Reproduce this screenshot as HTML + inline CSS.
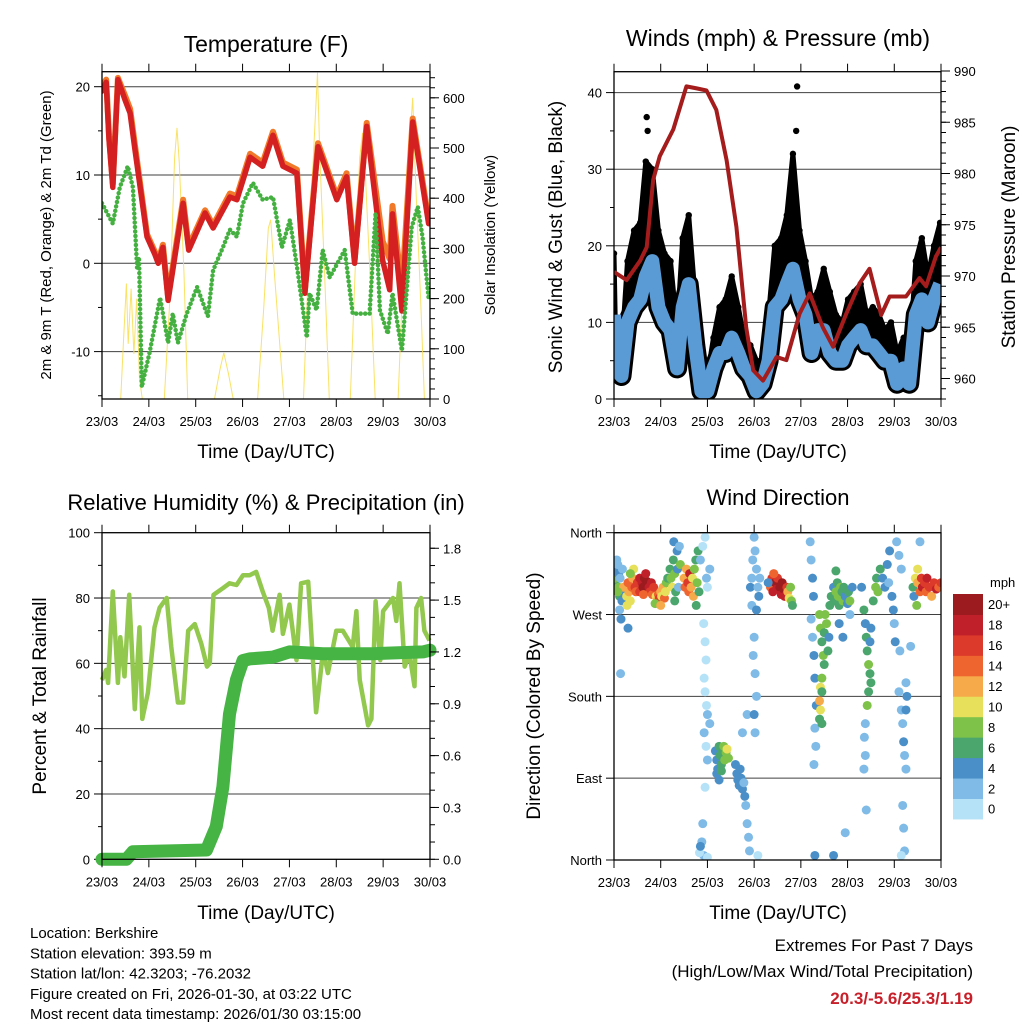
<!DOCTYPE html>
<html><head><meta charset="utf-8"><style>
html,body{margin:0;padding:0;background:#fff}
svg{display:block;font-family:"Liberation Sans",Arial,sans-serif}
</style></head><body>
<svg id="s" xmlns="http://www.w3.org/2000/svg" width="1024" height="1024" viewBox="0 0 1024 1024">
<rect width="1024" height="1024" fill="#fff"/>
</svg>
<script>
// ---------- DATA ----------
const dayLabels = ["23/03","24/03","25/03","26/03","27/03","28/03","29/03","30/03"];
// Temperature panel
const tTimes = [0,0.09,0.15,0.23,0.34,0.49,0.6,0.7,0.96,1.13,1.2,1.3,1.41,1.73,1.85,2.2,2.37,2.73,2.88,3.16,3.43,3.65,3.86,4.16,4.33,4.61,5.01,5.22,5.39,5.65,5.99,6.14,6.2,6.4,6.63,6.97];
const tRed   = [19.5,20.5,14,8.6,20.8,18.5,17,13,3,1,0,1.8,-4.2,6.8,1.5,5.7,4,7.5,7.2,12,11,14.5,11,10.2,-3.4,13.2,7.2,9.8,0,15.5,0.3,-3,5.6,-5.4,16,4.5];
const tOrange= [20,20.8,14.5,9,21,19,17.5,13.5,3.3,1.3,0.3,2.1,-3.8,7.2,1.9,6,4.3,7.9,7.6,12.4,11.4,14.9,11.4,10.6,-3,13.6,7.6,10.2,0.4,15.9,2.5,0.5,6.5,-3,16.4,4.9];
const dTimes = [0,0.23,0.38,0.55,0.66,0.75,0.79,0.85,1.02,1.24,1.41,1.51,1.62,1.81,2.03,2.26,2.37,2.58,2.73,2.88,3.01,3.22,3.43,3.65,3.84,4.01,4.18,4.37,4.43,4.58,4.71,4.86,5.18,5.35,5.71,5.84,5.93,6.1,6.2,6.4,6.61,6.74,6.84,6.97];
const dewVals= [6.8,4.5,8.6,11,8.6,-0.5,0.7,-14,-10,-3.9,-9,-5.7,-9,-5.7,-2.7,-6,-0.8,1.8,3.8,3,6.8,9.1,7.2,7.5,1.8,4.9,-1.1,-8.4,-3.4,-5.3,1.5,-1.6,1.5,-5.7,-5.7,5.7,-5.3,-8,-3.4,-9.9,4.1,6.4,3,-3.9];
const solTimes = [0,0.40,0.46,0.52,0.56,0.62,0.68,0.74,0.80,0.86,1.33,1.45,1.55,1.60,1.65,1.75,1.83,2.4,2.52,2.6,2.7,2.8,3.32,3.45,3.55,3.6,3.68,3.8,3.88,4.3,4.42,4.52,4.6,4.65,4.75,4.85,5.3,5.42,5.5,5.56,5.62,5.72,5.83,6.32,6.45,6.56,6.63,6.7,6.8,6.88,7];
const solVals  = [0,0,120,230,110,220,90,200,40,0,0,200,480,540,470,250,0,0,60,92,50,0,0,180,340,357,250,100,0,0,300,500,650,480,250,0,0,300,480,530,450,250,0,0,300,500,600,420,200,0,0];
// Winds panel
const wTimes = [0,0.03,0.16,0.29,0.43,0.56,0.68,0.82,0.95,1.08,1.21,1.35,1.47,1.6,1.74,1.87,2.0,2.13,2.26,2.39,2.52,2.66,2.78,2.92,3.05,3.18,3.31,3.44,3.58,3.7,3.83,3.97,4.1,4.23,4.36,4.49,4.62,4.75,4.89,5.01,5.14,5.28,5.41,5.54,5.67,5.8,5.93,6.06,6.2,6.32,6.46,6.59,6.72,6.85,6.98];
const windVals=[11,4,3,10,12,13,16,18,12,10,9,4,12,15,7,1,1,4,6,6,8,6,4,3,1,2,5,12,13,15,17,13,11,6,9,9,6,5,5,7,8,9,7,7,6,5,5,2,4,2,11,13,10,13,15];
const gustVals=[19,9,6,18,22,23,31,30,22,19,18,9,21,24,13,5,3,8,12,13,16,12,8,7,5,5,11,20,21,24,32,22,18,13,14,17,14,11,10,13,14,15,11,12,11,9,10,6,8,5,18,21,16,20,23];
const gustPeakTimes=[0.7,3.92,3.9,0.72];
const gustPeakVals=[36.8,40.8,35,35];
const presTimes=[0,0.27,0.56,0.70,0.84,0.98,1.27,1.55,1.77,1.98,2.19,2.41,2.62,2.83,2.98,3.19,3.48,3.69,3.97,4.19,4.47,4.69,4.97,5.26,5.47,5.72,5.90,6.25,6.54,6.68,6.89,7.0];
const presVals=[970.4,969.6,971.5,972.8,979.4,981.7,984.3,988.5,988.3,988.1,986.2,981.3,974.8,965.0,960.8,959.8,962.1,961.8,966.3,968.3,965.0,963.1,966.3,969.3,970.7,966.2,968.0,968.0,969.8,969.0,971.9,972.8];
// RH / precipitation panel
const rhTimes=[0,0.09,0.13,0.23,0.34,0.39,0.48,0.58,0.70,0.80,0.86,0.98,1.12,1.23,1.38,1.48,1.62,1.73,1.84,1.98,2.12,2.24,2.30,2.38,2.58,2.72,2.87,3.01,3.15,3.29,3.43,3.56,3.64,3.79,3.86,4.0,4.15,4.25,4.40,4.47,4.57,4.72,4.82,5.0,5.14,5.35,5.43,5.5,5.68,5.75,5.84,5.94,6.0,6.21,6.28,6.35,6.46,6.56,6.67,6.71,6.81,6.88,6.99];
const rhVals=[54.9,58,54,82,54,68,56,81,46,71,43,51,71,77,80,65,48,48,70,72,66,59,60,81,83,84.5,84,87,87,88,82,77,70,81,69,78,61,84.5,85,68,45,64,57,70,70,65,76,55,41,43,79,61,76,80,73,84.5,59,63,53,77,80,70,67];
const prTimes=[0,0.52,0.66,2.23,2.44,2.58,2.72,2.87,3.01,3.15,3.65,4.0,4.72,5.78,6.85,7.0];
const prVals=[0,0,0.044,0.054,0.19,0.42,0.84,1.04,1.15,1.16,1.17,1.20,1.19,1.19,1.20,1.21];
// Wind direction scatter: day, direction (deg), speed (mph)
const dirDays=[0,0.02,0.03,0.05,0.06,0.08,0.1,0.1,0.12,0.13,0.15,0.17,0.2,0.18,0.08,0.12,0.15,0.3,0.14,
0.25,0.27,0.3,0.32,0.35,0.38,0.4,0.42,0.45,0.47,0.35,0.28,0.5,0.55,0.55,
0.6,0.62,0.65,0.67,0.7,0.72,0.75,0.77,0.8,0.82,0.85,0.68,0.63,
0.9,0.92,0.95,0.97,1.0,1.02,1.05,1.08,1.1,1.12,1.15,0.88,1.0,
1.2,1.22,1.25,1.27,1.3,1.32,1.35,1.36,1.38,1.3,1.28,1.4,1.42,
1.5,1.52,1.55,1.58,1.6,1.62,1.65,1.68,1.7,1.72,1.75,1.78,1.8,1.82,1.76,
1.85,1.9,1.95,1.98,2.0,2.05,1.92,1.95,1.97,1.93,1.95,1.98,2.0,2.05,1.93,1.97,2.0,1.95,1.9,1.88,1.92,2.0,1.83,1.85,
2.17,2.2,2.22,2.25,2.27,2.3,2.32,2.35,2.37,2.4,2.42,2.45,2.2,2.25,2.3,
2.6,2.63,2.65,2.68,2.7,2.72,2.75,2.78,2.8,2.82,2.85,2.88,2.9,2.75,2.85,
2.92,2.95,2.97,3.0,3.02,3.05,3.08,3.1,3.12,2.95,3.05,3.0,2.98,3.02,3.05,3.0,3.02,3.08,
3.35,3.38,3.4,3.45,3.48,3.5,3.55,3.58,3.6,3.63,3.65,3.7,3.72,3.75,3.78,3.8,3.82,3.42,3.3,
4.2,4.22,4.25,4.27,4.22,4.25,4.28,4.3,4.33,4.3,4.32,4.28,4.3,
4.4,4.42,4.45,4.48,4.5,4.45,4.42,4.4,4.42,4.45,4.5,4.55,4.6,4.58,4.52,4.62,4.4,4.45,
4.65,4.7,4.72,4.75,4.78,4.8,4.82,4.85,4.88,4.9,4.92,4.95,5.0,5.02,5.05,5.1,4.75,4.82,4.9,5.05,4.95,4.7,
5.3,5.35,5.38,5.4,5.42,5.45,5.48,5.5,5.45,5.42,5.5,5.38,5.36,5.38,5.35,5.55,5.48,5.4,
5.6,5.62,5.65,5.7,5.75,5.8,5.85,5.88,5.95,5.98,6.0,6.02,5.9,
6.05,6.1,6.15,6.12,6.1,6.15,6.18,6.2,6.22,6.25,6.18,6.2,6.22,6.15,6.25,6.27,6.25,
6.4,6.42,6.45,6.5,6.55,6.58,6.6,6.65,6.68,6.7,6.75,6.8,6.85,6.9,6.95,7.0,6.5,6.48,6.55,6.35];
const dirDegs=[300,305,310,320,330,325,315,300,290,310,295,285,300,320,295,275,265,255,205,
300,290,305,295,285,300,310,320,300,295,315,280,305,310,295,
305,300,310,302,298,306,300,295,305,292,300,315,292,
290,285,292,288,295,290,300,288,295,305,310,282,280,
320,310,300,330,315,295,340,320,300,285,350,345,325,
310,300,320,305,295,315,300,310,290,320,330,305,340,295,280,
330,345,355,310,300,320,260,240,220,200,185,170,160,150,140,125,110,80,40,20,5,3,8,15,
120,110,100,125,115,105,120,125,110,118,122,112,95,88,98,
105,95,88,82,100,90,78,85,70,60,40,25,10,140,160,
300,310,330,355,340,320,300,290,310,280,275,245,225,205,180,160,140,5,
300,310,295,305,298,310,300,292,305,298,290,300,295,288,300,285,280,315,305,
350,330,310,290,265,245,225,200,170,145,125,105,5,
270,255,240,225,215,200,190,175,165,185,250,260,245,230,270,280,155,150,
290,300,285,295,305,290,280,300,295,285,300,290,282,295,285,300,318,260,245,270,30,5,
300,275,260,245,230,215,205,195,185,170,255,150,135,115,100,285,240,55,
300,310,295,320,310,300,325,305,290,275,260,240,340,
350,335,320,230,185,165,150,130,115,100,60,35,10,5,165,180,195,
300,290,310,305,295,310,300,305,295,310,300,290,305,298,300,305,320,280,350,235];
const dirSpeeds=[12,6,8,4,2,3,4,8,6,2,4,4,12,3,8,2,4,4,2,
12,10,14,12,10,14,12,10,16,14,8,10,16,18,16,
18,20,20,20,22,20,18,16,18,14,16,18,14,
10,12,14,16,12,10,12,14,10,8,6,8,12,
6,8,10,6,8,6,4,4,2,6,4,2,8,
12,14,12,16,14,18,12,10,12,8,6,8,6,6,6,
2,0,0,2,0,2,0,0,0,0,0,0,2,2,2,0,2,0,2,2,2,0,0,4,
4,4,4,6,6,6,6,8,8,8,10,8,4,4,6,
4,4,4,4,4,4,4,2,4,2,2,2,2,2,2,
4,2,2,2,2,2,2,4,2,2,4,2,2,2,2,4,2,0,
14,16,18,20,18,16,20,18,22,20,18,16,12,10,8,8,6,14,4,
2,2,4,4,2,2,4,4,4,2,2,2,4,
8,8,6,8,6,8,10,12,10,6,6,8,4,6,8,6,6,6,
6,4,6,8,6,8,6,8,6,8,6,4,4,6,8,4,6,4,4,2,2,4,
4,6,4,6,6,8,6,6,6,8,4,2,2,2,2,6,4,2,
8,6,8,6,4,4,4,2,4,4,2,4,4,
2,2,2,2,2,2,2,4,2,2,2,2,2,0,4,4,2,
6,4,10,12,14,16,18,16,14,18,16,12,16,18,14,16,10,8,2,2];
const cbLabels=["0","2","4","6","8","10","12","14","16","18","20+"];
const cbColors=["#b6e2f8","#7fbbe6","#4a8fc8","#4aa66c","#7ec24a","#e6e05a","#f6aa4a","#ef6530","#dc3a2a","#c0202a","#9b1b1e"];

// ---------- HELPERS ----------
const S=document.getElementById('s');
const NS="http://www.w3.org/2000/svg";
function mk(tag,attrs,parent){const e=document.createElementNS(NS,tag);for(const k in attrs)e.setAttribute(k,attrs[k]);(parent||S).appendChild(e);return e;}
function txt(x,y,s,size,anchor,parent,extra){const t=mk('text',Object.assign({x:x,y:y,'font-size':size,'text-anchor':anchor||'middle',fill:'#000'},extra||{}),parent);t.textContent=s;return t;}
function group(name){const g=mk('g',{});return g;}
function pts(ts,vs,xf,yf){return ts.map((t,i)=>xf(t).toFixed(1)+','+yf(vs[i]).toFixed(1)).join(' ');}

function frame(g,x0,x1,y0,y1){
  for(let d=0;d<=7;d++){const x=x0+d*(x1-x0)/7;
    mk('line',{x1:x,x2:x,y1:y0-8,y2:y0,stroke:'#000','stroke-width':1},g);
    mk('line',{x1:x,x2:x,y1:y1,y2:y1+8,stroke:'#000','stroke-width':1},g);
    const l=txt(x,y1+27,dayLabels[d],13,'middle',g);
    
    
  }
  mk('rect',{x:x0,y:y0,width:x1-x0,height:y1-y0,fill:'none',stroke:'#000','stroke-width':1.3},g);
}
function leftAxis(g,x0,x1,yf,majors,labels,minors,grid){
  minors.forEach(v=>mk('line',{x1:x0-4,x2:x0,y1:yf(v),y2:yf(v),stroke:'#000'},g));
  majors.forEach((v,i)=>{mk('line',{x1:x0-8,x2:x0,y1:yf(v),y2:yf(v),stroke:'#000'},g);
    if(grid)mk('line',{x1:x0,x2:x1,y1:yf(v),y2:yf(v),stroke:'#000','stroke-width':1,opacity:0.75},g);
    const t=txt(x0-12,yf(v)+5,labels[i],13,'end',g);
    
    });
}
function rightAxis(g,x1,yf,majors,labels,minors){
  minors.forEach(v=>mk('line',{x1:x1,x2:x1+5,y1:yf(v),y2:yf(v),stroke:'#000'},g));
  majors.forEach((v,i)=>{mk('line',{x1:x1,x2:x1+9,y1:yf(v),y2:yf(v),stroke:'#000'},g);
    const t=txt(x1+13,yf(v)+5,labels[i],13,'start',g);
    
    });
}
function range(a,b,s){const r=[];for(let v=a;v<=b+1e-9;v+=s)r.push(+v.toFixed(4));return r;}

// ---------- PANEL 1: TEMPERATURE ----------
(function(){
const g=group('temperature-panel');
const x0=102,x1=430,y0=71.7,y1=399;
const xs=d=>x0+d*(x1-x0)/7, yT=v=>263.3-v*8.83, yS=v=>399-v*0.502;
const clip=mk('clipPath',{id:'c1'},g);mk('rect',{x:x0,y:y0,width:x1-x0,height:y1-y0},clip);
leftAxis(g,x0,x1,yT,[20,10,0,-10],["20","10","0","-10"],[15,5,-5,-15],true);
const pg=mk('g',{'clip-path':'url(#c1)'},g);
const sol=mk('polyline',{points:pts(solTimes,solVals,xs,yS),fill:'none',stroke:'#f8dd4a','stroke-width':1,opacity:0.85},pg);

const or=mk('polyline',{points:pts(tTimes,tOrange,xs,yT),fill:'none',stroke:'#f07a2a','stroke-width':6,'stroke-linejoin':'round','stroke-linecap':'round'},pg);

const rd=mk('polyline',{points:pts(tTimes,tRed,xs,yT),fill:'none',stroke:'#d42020','stroke-width':5.5,'stroke-linejoin':'round','stroke-linecap':'round'},pg);

const dw=mk('polyline',{points:pts(dTimes,dewVals,xs,yT),fill:'none',stroke:'#44b040','stroke-width':4.5,'stroke-dasharray':'0 4.5','stroke-linecap':'round','stroke-linejoin':'round'},pg);

rightAxis(g,x1,yS,[0,100,200,300,400,500,600],["0","100","200","300","400","500","600"],range(0,640,20));
frame(g,x0,x1,y0,y1);
const t=txt(266,52,'Temperature (F)',23,'middle',g);
const xl=txt(266,458,'Time (Day/UTC)',19,'middle',g);
const yl=txt(0,0,'2m & 9m T (Red, Orange) & 2m Td (Green)',15,'middle',g,{transform:'translate(51,235) rotate(-90)'});
const yr=txt(0,0,'Solar Insolation (Yellow)',15,'middle',g,{transform:'translate(495,235) rotate(-90)'});
})();

// ---------- PANEL 2: WINDS ----------
(function(){
const g=group('winds-panel');
const x0=614,x1=941,y0=71.7,y1=399;
const xs=d=>x0+d*(x1-x0)/7, yW=v=>399-v*7.66, yP=p=>399-(p-958)*10.25;
const clip=mk('clipPath',{id:'c2'},g);mk('rect',{x:x0,y:y0,width:x1-x0,height:y1-y0},clip);
leftAxis(g,x0,x1,yW,[0,10,20,30,40],["0","10","20","30","40"],[5,15,25,35],true);
const pg=mk('g',{'clip-path':'url(#c2)'},g);
const top=wTimes.map((t,i)=>xs(t).toFixed(1)+','+yW(gustVals[i]).toFixed(1));
const bot=wTimes.map((t,i)=>xs(t).toFixed(1)+','+yW(windVals[i]).toFixed(1)).reverse();
const band=mk('polygon',{points:top.concat(bot).join(' '),fill:'#000',stroke:'#000','stroke-width':5,'stroke-linejoin':'round'},pg);

const bl=mk('polyline',{points:pts(wTimes,windVals,xs,yW),fill:'none',stroke:'#000','stroke-width':20,'stroke-linejoin':'round'},pg);

wTimes.forEach((t,i)=>{const c=mk('circle',{cx:xs(t),cy:yW(gustVals[i]),r:3.2,fill:'#000'},pg);
  });
gustPeakTimes.forEach((t,i)=>{const c=mk('circle',{cx:xs(t),cy:yW(gustPeakVals[i]),r:3.2,fill:'#000'},pg);
  });
const wl=mk('polyline',{points:pts(wTimes,windVals,xs,yW),fill:'none',stroke:'#5b9bd5','stroke-width':14,'stroke-linejoin':'round'},pg);

const pl=mk('polyline',{points:pts(presTimes,presVals,xs,yP),fill:'none',stroke:'#a51c1c','stroke-width':4,'stroke-linejoin':'round'},pg);

rightAxis(g,x1,yP,[960,965,970,975,980,985,990],["960","965","970","975","980","985","990"],range(958,990,1));
frame(g,x0,x1,y0,y1);
const t=txt(778,46,'Winds (mph) & Pressure (mb)',23,'middle',g);
const xl=txt(778,458,'Time (Day/UTC)',19,'middle',g);
const yl=txt(0,0,'Sonic Wind & Gust (Blue, Black)',19,'middle',g,{transform:'translate(562,237) rotate(-90)'});
const yr=txt(0,0,'Station Pressure (Maroon)',19,'middle',g,{transform:'translate(1015,237) rotate(-90)'});
})();

// ---------- PANEL 3: RH & PRECIP ----------
(function(){
const g=group('humidity-precip-panel');
const x0=102,x1=430,y0=532.7,y1=859.3;
const xs=d=>x0+d*(x1-x0)/7, yR=v=>859.3-v*3.266, yPr=v=>859.3-v*172.8;
const clip=mk('clipPath',{id:'c3'},g);mk('rect',{x:x0-8,y:y0,width:x1-x0+16,height:y1-y0+8},clip);
leftAxis(g,x0,x1,yR,[0,20,40,60,80,100],["0","20","40","60","80","100"],[10,30,50,70,90],false);
[20,40,60,80].forEach(v=>mk('line',{x1:x0,x2:x1,y1:yR(v),y2:yR(v),stroke:'#000',opacity:0.75},g));
const pg=mk('g',{'clip-path':'url(#c3)'},g);
const rh=mk('polyline',{points:pts(rhTimes,rhVals,xs,yR),fill:'none',stroke:'#92c84e','stroke-width':4.5,'stroke-linejoin':'round'},pg);

const pr=mk('polyline',{points:pts(prTimes,prVals,xs,yPr),fill:'none',stroke:'#46b445','stroke-width':13,'stroke-linejoin':'round','stroke-linecap':'round'},pg);

rightAxis(g,x1,yPr,[0,0.3,0.6,0.9,1.2,1.5,1.8],["0.0","0.3","0.6","0.9","1.2","1.5","1.8"],range(0,1.8,0.1));
frame(g,x0,x1,y0,y1);
const t=txt(266,510,'Relative Humidity (%) & Precipitation (in)',22,'middle',g);
const xl=txt(266,919,'Time (Day/UTC)',19,'middle',g);
const yl=txt(0,0,'Percent & Total Rainfall',19,'middle',g,{transform:'translate(46,696) rotate(-90)'});
})();

// ---------- PANEL 4: WIND DIRECTION ----------
(function(){
const g=group('wind-direction-panel');
const x0=614,x1=941,y0=532.7,y1=860;
const xs=d=>x0+d*(x1-x0)/7, yD=v=>y1-v/360*(y1-y0);
leftAxis(g,x0,x1,yD,[0,90,180,270,360],["North","East","South","West","North"],[],true);
const clip=mk('clipPath',{id:'c4'},g);mk('rect',{x:x0,y:y0,width:x1-x0,height:y1-y0},clip);
const pg=mk('g',{'clip-path':'url(#c4)'},g);
dirDays.forEach((d,i)=>{const bin=Math.min(10,Math.floor(dirSpeeds[i]/2));
  const c=mk('circle',{cx:xs(d),cy:yD(dirDegs[i]),r:4.5,fill:cbColors[bin]},pg);
  
  });
frame(g,x0,x1,y0,y1);
const t=txt(778,505,'Wind Direction',22,'middle',g);
const xl=txt(778,919,'Time (Day/UTC)',19,'middle',g);
const yl=txt(0,0,'Direction (Colored By Speed)',19,'middle',g,{transform:'translate(540,696) rotate(-90)'});
const cb=group('speed-colorbar');
const bx=953,by=594,bw=30,bh=20.45;
cbColors.forEach((c,i)=>{const r=mk('rect',{x:bx,y:by+(10-i)*bh,width:bw,height:bh+0.5,fill:c},cb);
  
  const l=txt(bx+35,by+(10-i)*bh+bh/2+5,cbLabels[i],13,'start',cb);
  });
const u=txt(bx+37,587,'mph',13,'start',cb);
})();

// ---------- FOOTER ----------
(function(){
const g=group('footer-info');
const lines=["Location: Berkshire","Station elevation: 393.59 m","Station lat/lon: 42.3203; -76.2032","Figure created on Fri, 2026-01-30, at 03:22 UTC","Most recent data timestamp: 2026/01/30 03:15:00"];
lines.forEach((s,i)=>{const t=txt(30,938+i*20.3,s,15,'start',g);});
const e1=txt(973,951,'Extremes For Past 7 Days',17,'end',g);
const e2=txt(973,977,'(High/Low/Max Wind/Total Precipitation)',17,'end',g);
const e3=txt(973,1004,'20.3/-5.6/25.3/1.19',17,'end',g,{fill:'#c8202a','font-weight':'bold'});
})();
</script>
</body></html>
